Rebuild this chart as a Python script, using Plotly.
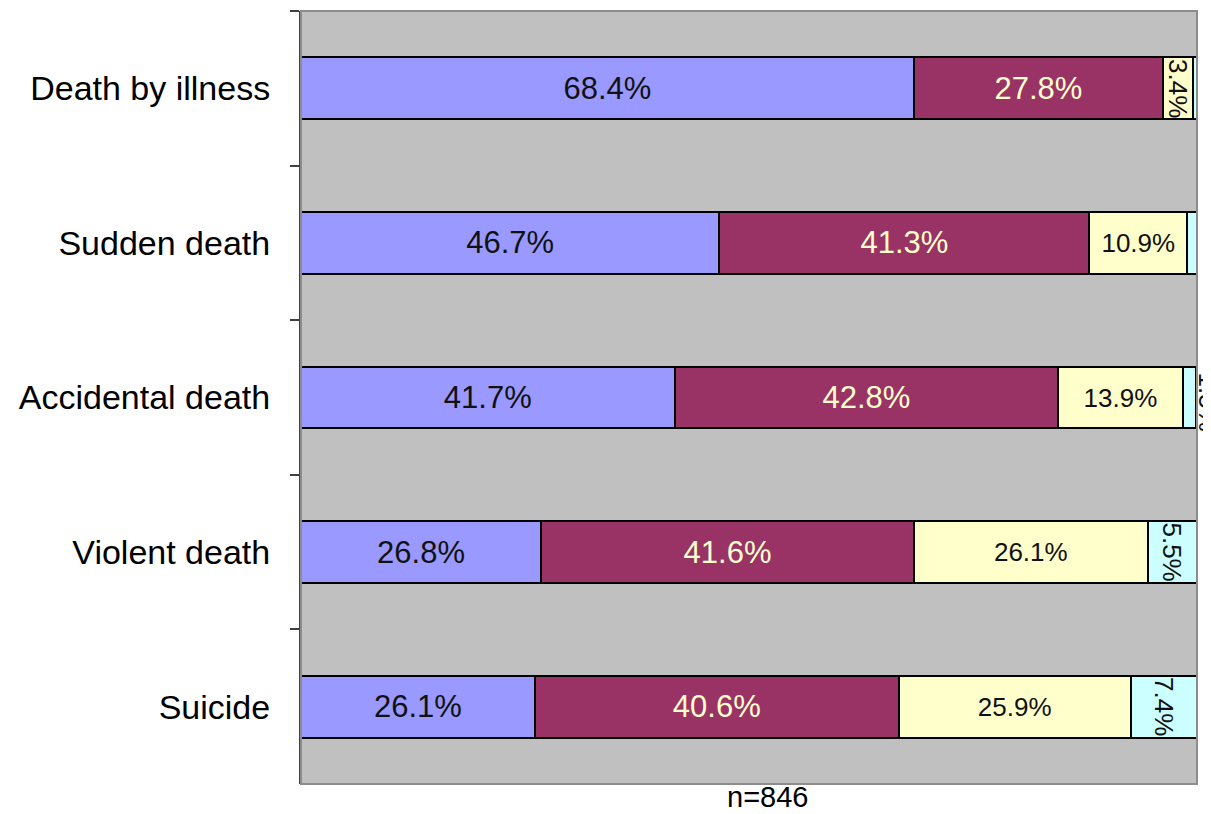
import plotly.graph_objects as go

categories = ["Death by illness", "Sudden death", "Accidental death", "Violent death", "Suicide"]
s1 = [68.4, 46.7, 41.7, 26.8, 26.1]
s2 = [27.8, 41.3, 42.8, 41.6, 40.6]
s3 = [3.4, 10.9, 13.9, 26.1, 25.9]
s4 = [0.4, 1.1, 1.5, 5.5, 7.4]
n_label = "n=846"

colors = ["#9999FF", "#993366", "#FFFFCC", "#CCFFFF"]
FONT = "Liberation Sans, Arial, sans-serif"

def lab(v):
    return f"{v:.1f}%"

fig = go.Figure()
fig.add_trace(go.Bar(y=categories, x=s1, orientation="h", marker=dict(color=colors[0], line=dict(color="black", width=2)),
                     text=[lab(v) for v in s1], textposition="inside", insidetextanchor="middle", constraintext="none",
                     textfont=dict(family=FONT, size=31, color="#111111"), width=0.4, hoverinfo="skip"))
fig.add_trace(go.Bar(y=categories, x=s2, orientation="h", marker=dict(color=colors[1], line=dict(color="black", width=2)),
                     text=[lab(v) for v in s2], textposition="inside", insidetextanchor="middle", constraintext="none",
                     textfont=dict(family=FONT, size=31, color="#FFFFCC"), width=0.4, hoverinfo="skip"))
s3_text = [lab(v) if v >= 5 else "" for v in s3]
fig.add_trace(go.Bar(y=categories, x=s3, orientation="h", marker=dict(color=colors[2], line=dict(color="black", width=2)),
                     text=s3_text, textposition="inside", insidetextanchor="middle", constraintext="none",
                     textfont=dict(family=FONT, size=26, color="#111111"), width=0.4, hoverinfo="skip"))
s4_text = [lab(v) if v >= 5 else "" for v in s4]
fig.add_trace(go.Bar(y=categories, x=s4, orientation="h", marker=dict(color=colors[3], line=dict(color="black", width=2)),
                     text=s4_text, textposition="inside", insidetextanchor="middle", constraintext="none", textangle=90,
                     textfont=dict(family=FONT, size=26, color="#111111"), width=0.4, hoverinfo="skip"))

annotations = []
for i, c in enumerate(categories):
    if s3[i] < 5:
        annotations.append(dict(x=s1[i] + s2[i] + s3[i] / 2, y=c, xref="x", yref="y", text=lab(s3[i]), textangle=90,
                                showarrow=False, font=dict(family=FONT, size=26, color="#111111")))
    if 1.2 < s4[i] < 5:
        annotations.append(dict(x=100, y=c, xref="x", yref="y", text=lab(s4[i]), textangle=90, xanchor="left",
                                xshift=-6, yshift=-4,
                                showarrow=False, font=dict(family=FONT, size=26, color="#111111")))

annotations.append(dict(x=0.521, y=0, xref="paper", yref="paper", yanchor="top", yshift=5, text=n_label,
                        showarrow=False, font=dict(family=FONT, size=29, color="black")))

fig.update_layout(
    barmode="stack",
    width=1203, height=806,
    margin=dict(l=293, r=14, t=3, b=30),
    paper_bgcolor="white",
    plot_bgcolor="#C0C0C0",
    showlegend=False,
    annotations=annotations,
    shapes=[dict(type="rect", xref="paper", yref="paper", x0=0, x1=1, y0=0, y1=1,
                 line=dict(color="#8C8C8C", width=2), layer="above")],
    xaxis=dict(range=[0, 100], showticklabels=False, showgrid=False, zeroline=False, ticks="", fixedrange=True),
    yaxis=dict(type="category", autorange="reversed", tickson="boundaries", ticks="outside", ticklen=9,
               tickcolor="#404040", tickwidth=1.5, showline=True, linecolor="#404040", linewidth=2,
               showgrid=False, ticklabelstandoff=22,
               tickfont=dict(family=FONT, size=34, color="black")),
    font=dict(family=FONT),
)

fig.write_html("out.html")
